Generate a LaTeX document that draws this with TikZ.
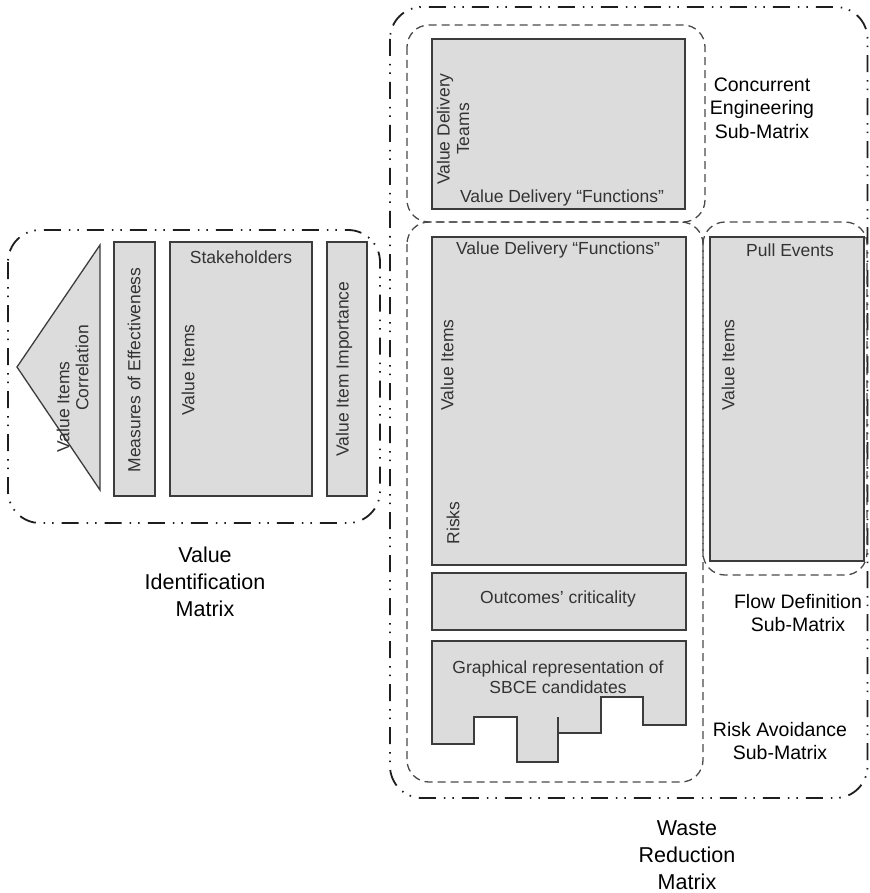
\documentclass[tikz,border=0pt]{standalone}
\usepackage{fontspec}
\setmainfont{Liberation Sans}
\definecolor{cellfill}{HTML}{DCDCDC}
\definecolor{cellline}{HTML}{3C3C3C}
\definecolor{celltext}{HTML}{333333}
\definecolor{dashline}{HTML}{4A4A4A}
\definecolor{matline}{HTML}{1E1E1E}
\begin{document}
\begin{tikzpicture}[x=1pt,y=-1pt,
  cell/.style={draw=cellline, fill=cellfill, line width=1.3pt, line join=miter},
  subbox/.style={draw=dashline, line width=1.3pt, dash pattern=on 8pt off 5pt, rounded corners=22pt},
  matbox/.style={draw=matline, line width=1.8pt,
    dash pattern=on 17pt off 8pt on 1.5pt off 7pt on 1.5pt off 8pt, rounded corners=32pt},
  intext/.style={text=celltext, font=\fontsize{17.5}{19.5}\selectfont, inner sep=0pt, align=center},
  sublabel/.style={text=black, font=\fontsize{19.5}{23.5}\selectfont, inner sep=0pt, align=center},
  matlabel/.style={text=black, font=\fontsize{21.5}{27}\selectfont, inner sep=0pt, align=center}]
\useasboundingbox (0,0) rectangle (869,893);

% ---------------- Value identification matrix ----------------
\draw[matbox] (8,230) rectangle (380,523);
\draw[cell] (17,367) -- (100,245) -- (100,490) -- cycle;
\draw[cell] (114,242) rectangle (155,496);
\draw[cell] (170,242) rectangle (312,496);
\draw[cell] (327,242) rectangle (367,496);

\node[intext, rotate=90] (vicA) at (63,407) {Value Items};
\node[intext, rotate=90] (vicB) at (82,368) {Correlation};
\node[intext, rotate=90] (moe) at (134,370) {Measures of Effectiveness};
\node[intext] (stk) at (241,257) {Stakeholders};
\node[intext, rotate=90] (viA) at (188,370) {Value Items};
\node[intext, rotate=90] (vii) at (344,369) {Value Item Importance};
\node[matlabel] (vim) at (205,582) {Value\\Identification\\Matrix};

% ---------------- Waste reduction matrix ----------------
\draw[matbox] (390,7) rectangle (867.5,798);
\draw[subbox] (407,25) rectangle (705,222);
\draw[subbox] (407,222) rectangle (703,782);
\draw[subbox] (703,222) rectangle (867,575);

% concurrent engineering sub-matrix
\draw[cell] (432,39) rectangle (685,209);
\node[intext, rotate=90] (vdt) at (453,129) {Value Delivery\\Teams};
\node[intext] (vdfA) at (562,198) {Value Delivery “Functions”};
\node[sublabel] (cel) at (762,108) {Concurrent\\Engineering\\Sub-Matrix};

% risk avoidance sub-matrix
\draw[cell] (432,237) rectangle (686,565);
\node[intext] (vdfB) at (558,250) {Value Delivery “Functions”};
\node[intext, rotate=90] (viB) at (447,365) {Value Items};
\node[intext, rotate=90] (rsk) at (453,523) {Risks};

\draw[cell] (432,573) rectangle (686,630);
\node[intext] (occ) at (558,599) {Outcomes’ criticality};

\draw[cell] (432,641) -- (686,641) -- (686,725) -- (643,725) -- (643,697)
  -- (601,697) -- (601,733) -- (558,733) -- (558,762) -- (517,762)
  -- (517,717) -- (474,717) -- (474,744) -- (432,744) -- cycle;
\draw[draw=cellline, line width=1.3pt] (558,733) -- (558,717);
\node[intext] (sbce) at (558,677) {Graphical representation of\\SBCE candidates};
\node[sublabel] (ral) at (780,741) {Risk Avoidance\\Sub-Matrix};

% flow definition sub-matrix
\draw[cell] (710,237) rectangle (864,561);
\node[intext] (pev) at (790,250) {Pull Events};
\node[intext, rotate=90] (viC) at (728,365) {Value Items};
\node[sublabel] (fdl) at (798,613) {Flow Definition\\Sub-Matrix};

\node[matlabel] (wrm) at (687,855) {Waste\\Reduction\\Matrix};
\end{tikzpicture}
\end{document}
